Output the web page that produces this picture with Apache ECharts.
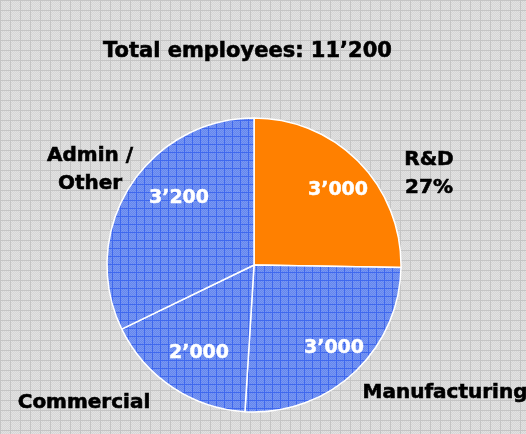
<!DOCTYPE html>
<html>
<head>
<meta charset="utf-8">
<script src="https://cdn.jsdelivr.net/npm/echarts@6/dist/echarts.min.js"></script>
<style>
  html, body { margin: 0; padding: 0; }
  #chart { width: 526px; height: 434px; }
</style>
</head>
<body>
<div id="chart"></div>
<script>
// data
var categories = ['R&D', 'Manufacturing', 'Commercial', 'Admin /\nOther'];
// printed figures on the slices
var labelValues = [3000, 3000, 2000, 3200];
// slice sizes as drawn in the picture (the drawing is not quite to scale)
var sliceValues = [2830, 2880, 1885, 3605];
var total = 11200;
var titleText = 'Total employees: 11\u2019200';

// label spots (layout only)
var innerPos = [[338, 190], [334, 348], [199, 353], [179, 198]];
var outerPos = [[429, 174], [445, 393], [84, 403], [90, 170]];

// little tiled textures, drawn on a canvas
function makeTile(size, base, line, dot) {
  var c = document.createElement('canvas');
  c.width = size; c.height = size;
  var g = c.getContext('2d');
  g.fillStyle = base;
  g.fillRect(0, 0, size, size);
  g.fillStyle = dot;
  for (var y = 0; y < size; y++) {
    for (var x = 0; x < size; x++) {
      if ((x + y) % 2 === 0) g.fillRect(x, y, 1, 1);
    }
  }
  g.fillStyle = line;
  g.fillRect(0, 0, size, 1);
  g.fillRect(0, 0, 1, size);
  return c;
}

var bgTile = makeTile(10, '#d6d6d6', '#c4c4c4', '#e2e2e2');
var blueTile = makeTile(8, '#6586ee', '#3f68ee', '#7898f3');
document.getElementById('chart').style.background = 'url(' + bgTile.toDataURL() + ')';

function fmt(v) {
  return String(v).replace(/\B(?=(\d{3})+(?!\d))/g, '\u2019');
}

var pieData = sliceValues.map(function (v, i) {
  return {
    name: categories[i],
    value: v,
    itemStyle: { color: i === 0 ? '#ff8000' : { image: blueTile, repeat: 'repeat' } }
  };
});

var chart = echarts.init(document.getElementById('chart'));
chart.setOption({
  backgroundColor: 'transparent',
  animation: false,
  title: {
    text: titleText,
    left: 98,
    top: 36,
    textStyle: {
      fontFamily: 'DejaVu Sans', fontWeight: 'bold', fontSize: 21, color: '#000',
      textBorderColor: '#000', textBorderWidth: 0.6
    }
  },
  series: [
    {
      type: 'pie',
      center: [254, 265],
      radius: 147,
      startAngle: 90,
      clockwise: true,
      silent: true,
      itemStyle: { borderColor: '#fff', borderWidth: 1.5 },
      label: {
        position: 'inside',
        color: '#fff',
        fontFamily: 'DejaVu Sans',
        fontWeight: 'bold',
        fontSize: 19,
        textBorderColor: '#fff',
        textBorderWidth: 0.5,
        formatter: function (p) { return fmt(labelValues[p.dataIndex]); }
      },
      labelLayout: function (p) {
        var pt = innerPos[p.dataIndex];
        return { x: pt[0], y: pt[1], align: 'center', verticalAlign: 'middle' };
      },
      data: pieData
    },
    {
      type: 'pie',
      center: [254, 265],
      radius: 147,
      startAngle: 90,
      clockwise: true,
      silent: true,
      itemStyle: { color: 'transparent', borderWidth: 0 },
      labelLine: { show: false },
      label: {
        position: 'outside',
        overflow: 'none',
        color: '#000',
        fontFamily: 'DejaVu Sans',
        fontWeight: 'bold',
        fontSize: 20,
        lineHeight: 28,
        align: 'center',
        textBorderColor: '#000',
        textBorderWidth: 0.6,
        formatter: function (p) {
          var i = p.dataIndex;
          return i === 0 ? p.name + '\n' + Math.round(labelValues[i] / total * 100) + '%' : p.name;
        }
      },
      labelLayout: function (p) {
        var pt = outerPos[p.dataIndex];
        return { x: pt[0], y: pt[1], align: 'center', verticalAlign: 'middle' };
      },
      data: pieData.map(function (d) { return { name: d.name, value: d.value }; })
    }
  ]
});
</script>
</body>
</html>
